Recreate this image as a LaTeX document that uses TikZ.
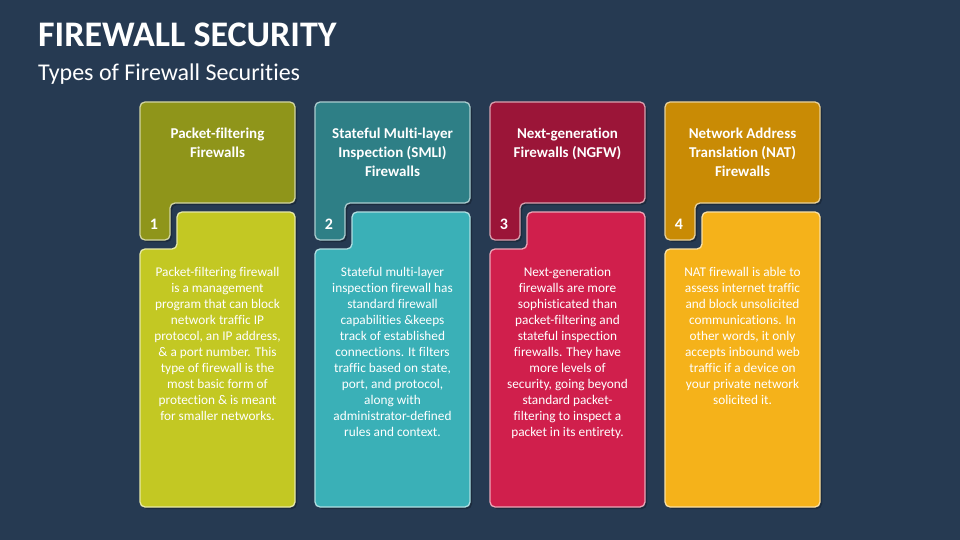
\documentclass[tikz,border=0pt]{standalone}
\usepackage{fontspec}
\setmainfont[Ligatures=NoCommon]{Carlito}
\definecolor{bg}{HTML}{263A52}
\definecolor{d1}{HTML}{8F951A}\definecolor{l1}{HTML}{C3C823}
\definecolor{d2}{HTML}{2E7F86}\definecolor{l2}{HTML}{3AB0B7}
\definecolor{d3}{HTML}{9B1538}\definecolor{l3}{HTML}{D01F4C}
\definecolor{d4}{HTML}{C98B05}\definecolor{l4}{HTML}{F5B21A}
\tikzset{
 cardshape/.style={fill=#1, draw=#1!40!white, line width=1.3pt, rounded corners=5pt},
 headtxt/.style={text=white, font=\bfseries\fontsize{15}{19}\selectfont, align=center, anchor=north, inner sep=0pt},
 bodytxt/.style={text=white, font=\fontsize{13.3}{16}\selectfont, align=center, anchor=north, inner sep=0pt},
 numtxt/.style={text=white, font=\bfseries\fontsize{16}{18}\selectfont, inner sep=0pt}
}
\newcommand{\fwcard}[6]{%
 \fill[black,opacity=0.25,rounded corners=5pt] (#1+2,104)--(#1+157,104)--(#1+157,205)--(#1+32,205)--(#1+32,242)--(#1+2,242)--cycle;
 \draw[cardshape=#2] (#1,102)--(#1+155,102)--(#1+155,203)--(#1+30,203)--(#1+30,240)--(#1,240)--cycle;
 \fill[black,opacity=0.25,rounded corners=5pt] (#1+39,214)--(#1+157,214)--(#1+157,509)--(#1+2,509)--(#1+2,251)--(#1+39,251)--cycle;
 \draw[cardshape=#3] (#1+37,212)--(#1+155,212)--(#1+155,507)--(#1,507)--(#1,249)--(#1+37,249)--cycle;
 \node[headtxt] (h#4) at (#1+77.5,128) {#5};
 \node[numtxt] (n#4) at (#1+14,224) {#4};
 \node[bodytxt] (b#4) at (#1+77.5,267) {#6};
}
\begin{document}
\begin{tikzpicture}[x=1pt,y=-1pt]
\fill[bg] (0,0) rectangle (960,540);
\useasboundingbox (0,0) rectangle (960,540);
\node[anchor=west,text=white,font=\bfseries\fontsize{36}{40}\selectfont,inner sep=0pt] (title) at (38,35) {FIREWALL SECURITY};
\node[anchor=west,text=white,font=\fontsize{24}{27}\selectfont,inner sep=0pt] (sub) at (38,74) {Types of Firewall Securities};
\fwcard{140}{d1}{l1}{1}{Packet-filtering\\Firewalls}{Packet-filtering firewall\\is a management\\program that can block\\network traffic IP\\protocol, an IP address,\\\& a port number. This\\type of firewall is the\\most basic form of\\protection \& is meant\\for smaller networks.}
\fwcard{315}{d2}{l2}{2}{Stateful Multi-layer\\Inspection (SMLI)\\Firewalls}{Stateful multi-layer\\inspection firewall has\\standard firewall\\capabilities \&keeps\\track of established\\connections. It filters\\traffic based on state,\\port, and protocol,\\along with\\administrator-defined\\rules and context.}
\fwcard{490}{d3}{l3}{3}{Next-generation\\Firewalls (NGFW)}{Next-generation\\firewalls are more\\sophisticated than\\packet-filtering and\\stateful inspection\\firewalls. They have\\more levels of\\security, going beyond\\standard packet-\\filtering to inspect a\\packet in its entirety.}
\fwcard{665}{d4}{l4}{4}{Network Address\\Translation (NAT)\\Firewalls}{NAT firewall is able to\\assess internet traffic\\and block unsolicited\\communications. In\\other words, it only\\accepts inbound web\\traffic if a device on\\your private network\\solicited it.}
\end{tikzpicture}
\end{document}
